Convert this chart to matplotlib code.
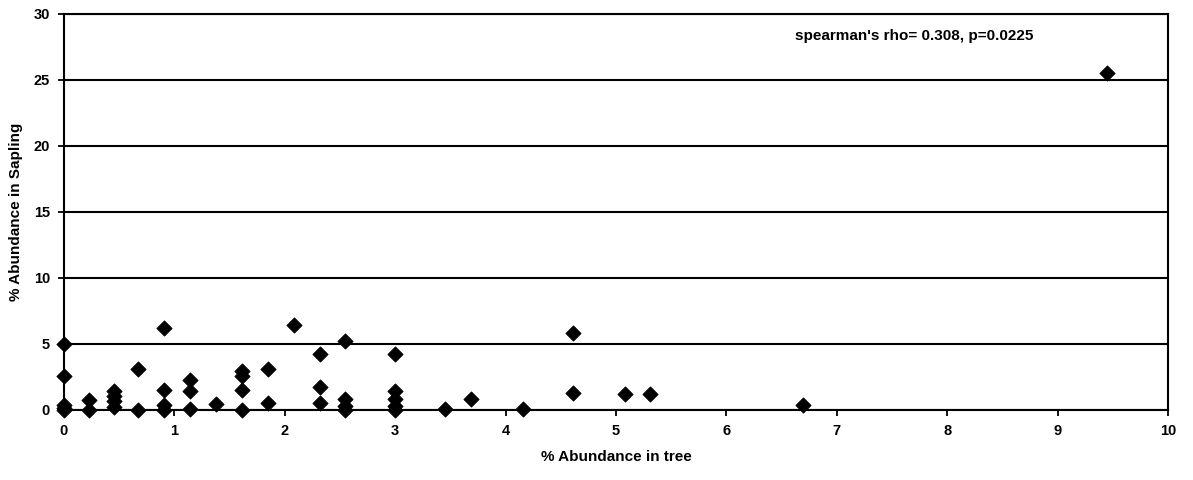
import matplotlib
matplotlib.use("Agg")
import matplotlib.pyplot as plt

# % abundance of each species among trees (x) and saplings (y)
tree_pct = [
    0.0, 0.0, 0.0, 0.0, 0.0,
    0.23, 0.23,
    0.45, 0.45, 0.45, 0.45,
    0.67, 0.67,
    0.91, 0.91, 0.91, 0.91,
    1.14, 1.14, 1.14,
    1.38,
    1.61, 1.61, 1.61, 1.61,
    1.85, 1.85,
    2.08,
    2.32, 2.32, 2.32,
    2.55, 2.55, 2.55, 2.55,
    3.0, 3.0, 3.0, 3.0, 3.0,
    3.45, 3.69, 4.16,
    4.61, 4.61,
    5.08, 5.31,
    6.69,
    9.45,
]
sapling_pct = [
    5.0, 2.6, 0.4, 0.15, 0.0,
    0.75, 0.0,
    1.45, 1.05, 0.7, 0.2,
    3.1, 0.0,
    6.2, 1.5, 0.35, 0.0,
    2.3, 1.45, 0.1,
    0.45,
    2.95, 2.55, 1.5, 0.0,
    3.1, 0.55,
    6.45,
    4.25, 1.7, 0.55,
    5.2, 0.8, 0.3, 0.0,
    4.25, 1.45, 0.8, 0.3, 0.0,
    0.05, 0.85, 0.1,
    5.8, 1.3,
    1.2, 1.2,
    0.4,
    25.5,
]

x_ticks = list(range(0, 11))
y_ticks = [0, 5, 10, 15, 20, 25, 30]
stat_text = "spearman's rho= 0.308, p=0.0225"

plt.rcParams["font.family"] = ["Liberation Sans", "DejaVu Sans"]
plt.rcParams["font.weight"] = "bold"

fig = plt.figure(figsize=(11.93, 4.8), dpi=100)
ax = fig.add_axes([0.0536, 0.146, 0.9254, 0.825])

for yv in y_ticks:
    ax.axhline(yv, color="black", linewidth=1.5, zorder=1)

ax.scatter(tree_pct, sapling_pct, marker="D", s=60, color="black",
           edgecolors="black", linewidths=0.6, zorder=3, clip_on=False)

ax.set_xlim(0, 10)
ax.set_ylim(0, 30)
ax.set_xticks(x_ticks)
ax.set_yticks(y_ticks)
ax.tick_params(axis="both", direction="out", length=4, width=1.3,
               labelsize=10.5, pad=6, colors="black")
for lab in ax.get_xticklabels() + ax.get_yticklabels():
    lab.set_fontweight("bold")

for side in ["left", "bottom", "right", "top"]:
    ax.spines[side].set_linewidth(1.5)
    ax.spines[side].set_color("black")

ax.set_xlabel("% Abundance in tree", fontsize=11, fontweight="bold", labelpad=9)
ax.set_ylabel("% Abundance in Sapling", fontsize=11, fontweight="bold", labelpad=8)

ax.text(6.62, 28.3, stat_text, fontsize=11, fontweight="bold",
        ha="left", va="center")

fig.savefig("out.png", dpi=100, facecolor="white")
